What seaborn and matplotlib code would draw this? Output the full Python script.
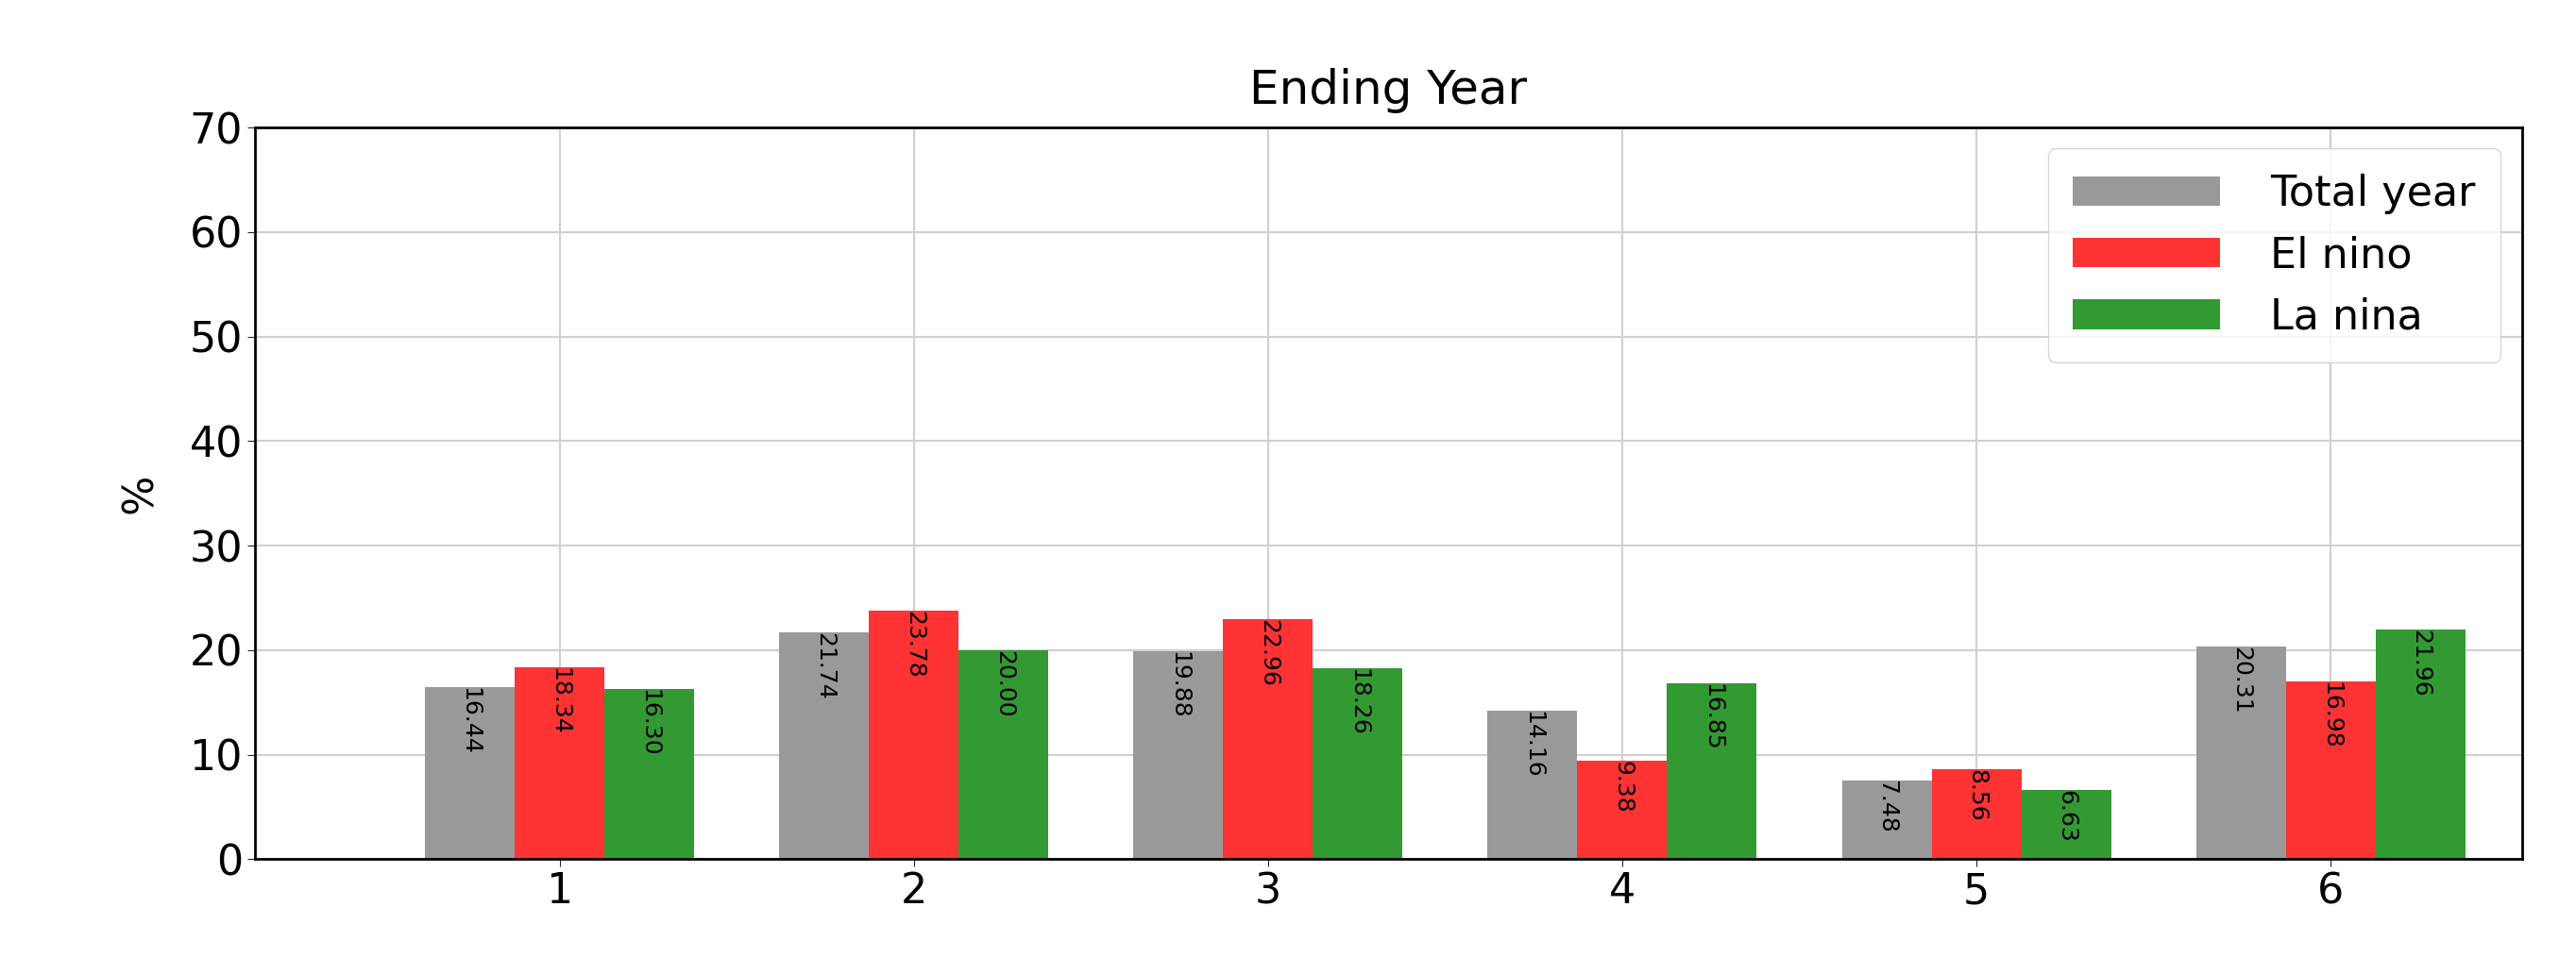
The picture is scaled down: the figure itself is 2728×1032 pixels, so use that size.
import matplotlib
matplotlib.use("Agg")
import matplotlib.pyplot as plt
import seaborn as sns
import pandas as pd

categories = ["1", "2", "3", "4", "5", "6"]
total_year = [16.44, 21.74, 19.88, 14.16, 7.48, 20.31]
el_nino = [18.34, 23.78, 22.96, 9.38, 8.56, 16.98]
la_nina = [16.30, 20.00, 18.26, 16.85, 6.63, 21.96]
series = ["Total year", "El nino", "La nina"]
colors = ["#999999", "#ff3333", "#339933"]

rows = []
for name, vals in zip(series, [total_year, el_nino, la_nina]):
    for c, v in zip(categories, vals):
        rows.append({"cat": c, "series": name, "value": v})
df = pd.DataFrame(rows)

sns.set_style("whitegrid")
plt.rcParams["font.family"] = ["DejaVu Sans"]

fig = plt.figure(figsize=(27.28, 10.32), dpi=100)
ax = fig.add_axes([0.099, 0.118, 0.88, 0.751])
sns.barplot(data=df, x="cat", y="value", hue="series", palette=colors,
            width=0.76, saturation=1, linewidth=0, ax=ax)

for cont in ax.containers:
    for p in cont:
        h = p.get_height()
        ax.text(p.get_x() + p.get_width() / 2, h, f"{h:.2f}", rotation=-90,
                ha="center", va="top", fontsize=18, color="black")

ax.set_xlim(-0.86, 5.54)
ax.set_ylim(0, 70)
ax.set_yticks(range(0, 71, 10))
ax.set_xlabel("")
ax.set_ylabel("%", fontsize=32, labelpad=22, color="black")
ax.set_title("Ending Year", fontsize=36, pad=18, color="black")
ax.tick_params(labelsize=32, length=6, left=True, bottom=True, labelcolor="black")
for s in ax.spines.values():
    s.set_color("black")
    s.set_linewidth(2)
ax.grid(True, color="#d0d0d0", linewidth=1.5)
ax.set_axisbelow(True)
leg = ax.legend(fontsize=32, loc="upper right", frameon=True, borderpad=0.6,
                handlelength=3.5, handletextpad=1.2)
for t in leg.get_texts():
    t.set_color("black")
fig.savefig("out.png", dpi=100)
